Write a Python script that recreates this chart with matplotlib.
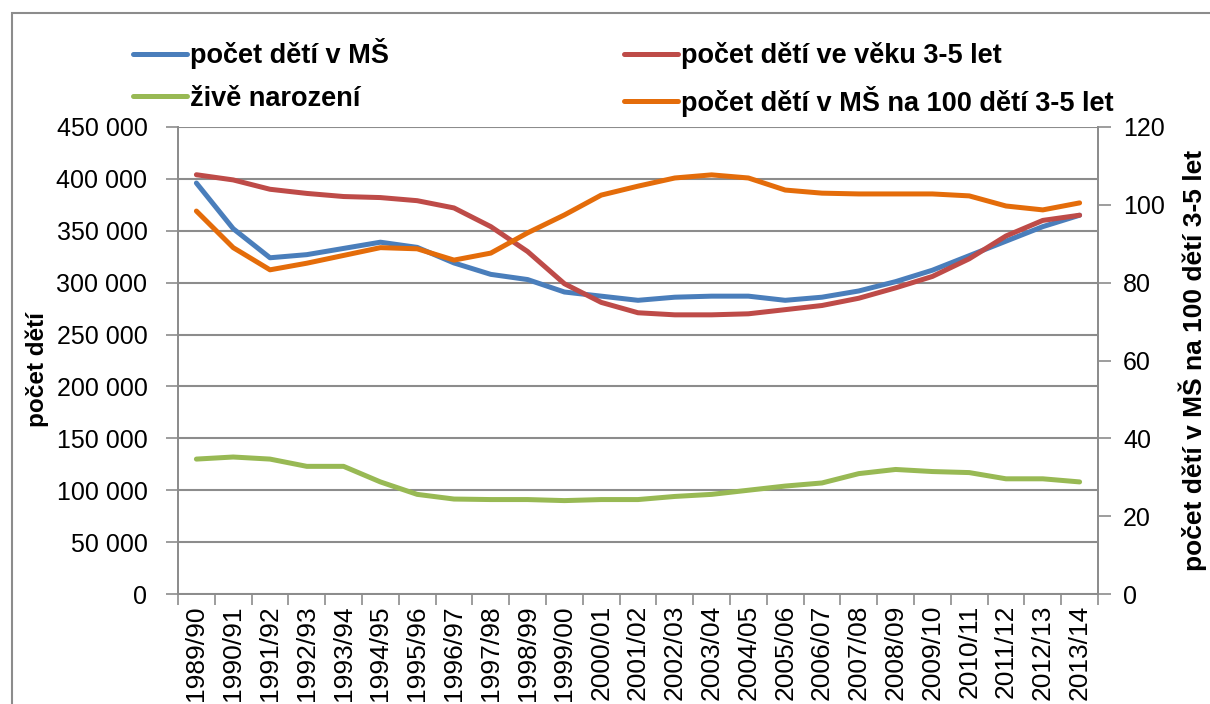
import matplotlib
matplotlib.use("Agg")
import matplotlib.pyplot as plt
from matplotlib.ticker import FuncFormatter, FixedLocator
from matplotlib.patches import Rectangle

years = ["1989/90", "1990/91", "1991/92", "1992/93", "1993/94", "1994/95", "1995/96",
         "1996/97", "1997/98", "1998/99", "1999/00", "2000/01", "2001/02", "2002/03",
         "2003/04", "2004/05", "2005/06", "2006/07", "2007/08", "2008/09", "2009/10",
         "2010/11", "2011/12", "2012/13", "2013/14"]

deti_ms = [396000, 352000, 324000, 327000, 333000, 339000, 334000, 319000, 308000,
           303000, 291000, 287000, 283000, 286000, 287000, 287000, 283000, 286000,
           292000, 301000, 312000, 326000, 340000, 354000, 365000]

deti_3_5 = [404000, 399000, 390000, 386000, 383000, 382000, 379000, 372000, 354000,
            330000, 299000, 281000, 271000, 269000, 269000, 270000, 274000, 278000,
            285000, 295000, 306000, 323000, 345000, 360000, 365000]

zive_narozeni = [130000, 132000, 130000, 123000, 123000, 108000, 96000, 91500, 91000,
                 91000, 90000, 91000, 91000, 94000, 96000, 100000, 104000, 107000,
                 116000, 120000, 118000, 117000, 111000, 111000, 108000]

na_100 = [98.4, 89.0, 83.3, 85.0, 87.0, 89.0, 88.7, 85.8, 87.6, 92.8, 97.4, 102.5,
          104.8, 106.9, 107.7, 106.9, 103.8, 103.0, 102.8, 102.8, 102.8, 102.3,
          99.7, 98.7, 100.5]

labels = ["počet dětí v MŠ", "živě narození", "počet dětí ve věku 3-5 let",
          "počet dětí v MŠ na 100 dětí 3-5 let"]

C_BLUE = "#4A7EBB"
C_RED = "#BE4B48"
C_GREEN = "#98B954"
C_ORANGE = "#E46C0A"
GRID = "#8C8C8C"

plt.rcParams['font.family'] = ['Liberation Sans', 'DejaVu Sans']

fig = plt.figure(figsize=(12.1, 7.04), dpi=100)
ax = fig.add_axes([178/1210, 1 - 594/704, (1098-178)/1210, (594-127)/704])
ax2 = ax.twinx()

x = list(range(len(years)))
lw = 3.6
l1, = ax.plot(x, deti_ms, color=C_BLUE, lw=lw, solid_capstyle='round', zorder=3)
l3, = ax.plot(x, deti_3_5, color=C_RED, lw=lw, solid_capstyle='round', zorder=3)
l2, = ax.plot(x, zive_narozeni, color=C_GREEN, lw=lw, solid_capstyle='round', zorder=3)
l4, = ax2.plot(x, na_100, color=C_ORANGE, lw=lw, solid_capstyle='round', zorder=3)

ax.set_xlim(-0.5, len(years) - 0.5)
ax.set_ylim(0, 450000)
ax2.set_ylim(0, 120)
ax.set_yticks(range(0, 450001, 50000))
ax2.set_yticks(range(0, 121, 20))
ax.yaxis.set_major_formatter(FuncFormatter(lambda v, p: f"{int(v):,}".replace(",", " ")))
ax.grid(axis='y', color=GRID, lw=1.5)
ax.set_axisbelow(True)

ax.set_xticks(x)
ax.set_xticklabels(years, rotation=90, fontsize=19)
ax.tick_params(axis='x', length=0, pad=8)
ax.xaxis.set_minor_locator(FixedLocator([i - 0.5 for i in range(len(years) + 1)]))
ax.tick_params(axis='x', which='minor', length=8, color=GRID, width=1.2)
ax.tick_params(axis='y', labelsize=18, length=9, color=GRID, width=1.2, pad=13)
ax2.tick_params(axis='y', labelsize=18, length=9, color=GRID, width=1.2, pad=9)

for a in (ax, ax2):
    a.spines['top'].set_visible(False)
    for s in ('left', 'right', 'bottom'):
        a.spines[s].set_color(GRID)
        a.spines[s].set_linewidth(1.3)

ax.set_ylabel("počet dětí", fontsize=17.5, fontweight='bold', va='center')
ax.yaxis.set_label_coords(37/1210, 1 - 370/704, transform=fig.transFigure)
ax2.set_ylabel("počet dětí v MŠ na 100 dětí 3-5 let", fontsize=19, fontweight='bold',
               rotation=90, va='center')
ax2.yaxis.set_label_coords(1193/1210, 1 - 360/704, transform=fig.transFigure)

leg = fig.legend([l1, l2, l3, l4], labels, ncol=2, loc='upper left',
                 bbox_to_anchor=(133/1210, 1 - 38/704), frameon=False,
                 borderpad=0, borderaxespad=0,
                 prop={'weight': 'bold', 'size': 19.5},
                 handlelength=2.0, handletextpad=0.12, columnspacing=8.65,
                 labelspacing=0.62)

fig.patches.append(Rectangle((12/1210, -0.05), 1.2, 1 - 13/704 + 0.05,
                             transform=fig.transFigure, fill=False,
                             edgecolor="#8C8C8C", lw=1.5))

fig.savefig("out.png", dpi=100)
